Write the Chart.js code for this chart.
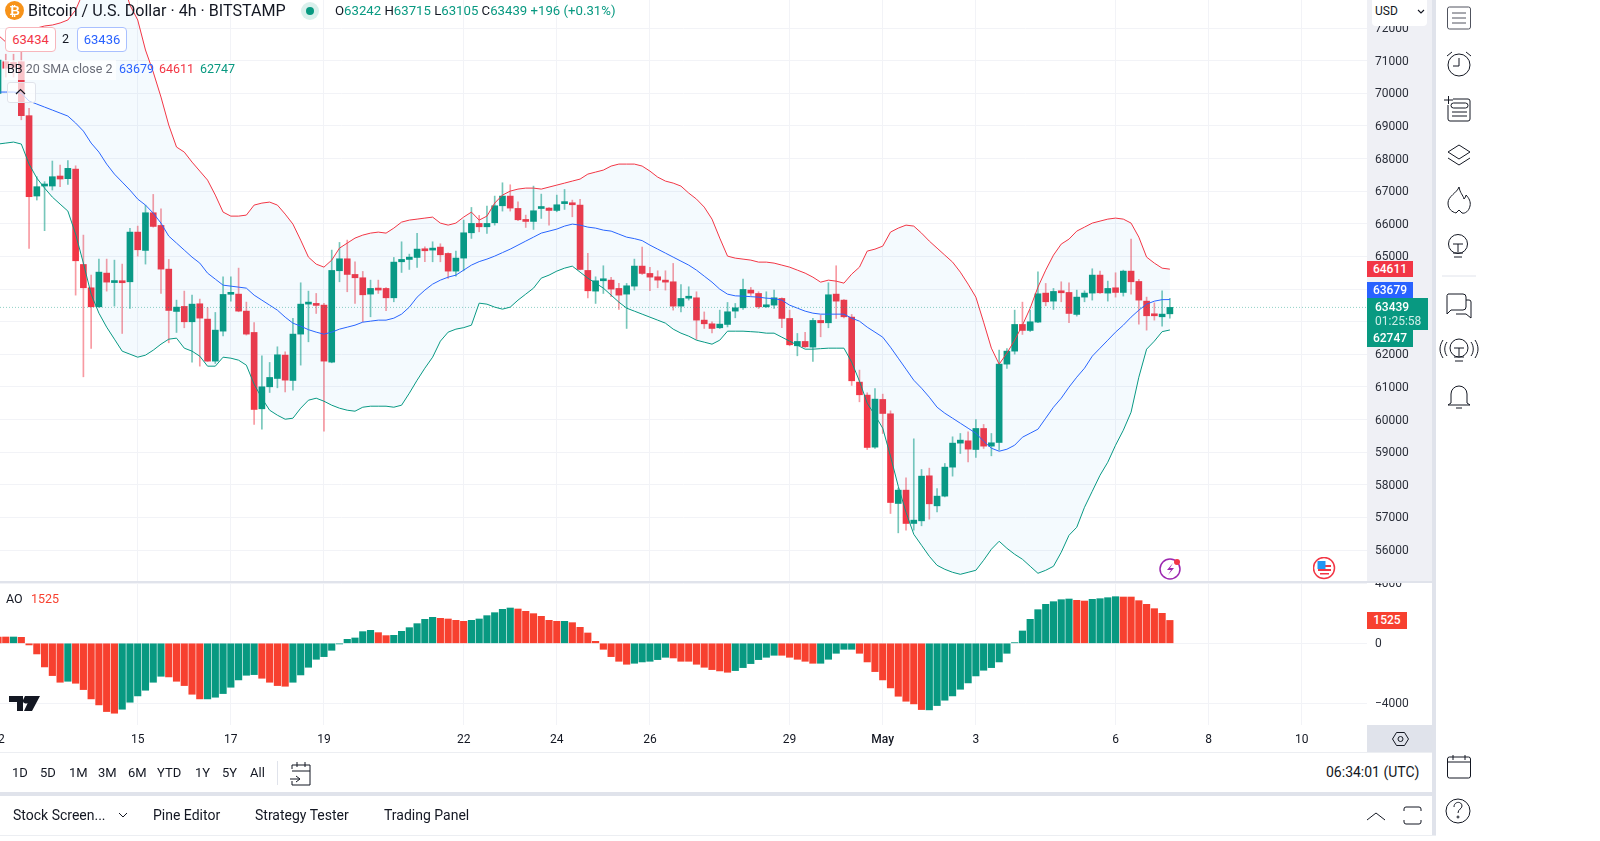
<!DOCTYPE html>
<html>
<head>
<meta charset="utf-8">
<title>Bitcoin / U.S. Dollar 4h</title>
<script src="https://cdn.jsdelivr.net/npm/chart.js@4"></script>
<style>
  html, body { margin: 0; background: #fff; }
  body { width: 1600px; height: 841px; position: relative; overflow: hidden; font-family: Roboto, sans-serif; color: #131722; }
  canvas { position: absolute; left: 0; }
  .abs { position: absolute; white-space: nowrap; }
  .tag { position: absolute; left: 1367px; width: 46px; text-align: center; color: #fff; font-size: 12px; font-weight: 500; height: 16px; line-height: 16px; }
  .box { position: absolute; top: 27px; height: 23px; line-height: 23px; border-radius: 4px; text-align: center; font-size: 13px; background: #fff; }
  .range { position: absolute; top: 765px; font-size: 13px; color: #131722; }
  .tab { position: absolute; top: 807px; font-size: 14px; color: #131722; }
</style>
</head>
<body>
<!-- backgrounds behind the charts -->
<div class="abs" style="left:1367px;top:0;width:65px;height:582px;background:#eff0f5"></div>

<canvas id="priceCanvas" width="1432" height="582" style="top:0;width:1432px;height:582px"></canvas>
<canvas id="aoCanvas" width="1432" height="170" style="top:582px;width:1432px;height:170px"></canvas>

<!-- pane frames -->
<div class="abs" style="left:0;top:581px;width:1432px;height:2px;background:#e0e3eb"></div>
<div class="abs" style="left:1432px;top:0;width:4px;height:835px;background:#e0e3eb"></div>
<div class="abs" style="left:1367px;top:725px;width:69px;height:27px;background:#e0e3eb"></div>
<div class="abs" style="left:0;top:752px;width:1432px;height:1px;background:#eceef2"></div>
<div class="abs" style="left:0;top:792px;width:1436px;height:4px;background:#e0e3eb"></div>
<div class="abs" style="left:0;top:835px;width:1436px;height:1px;background:#eceef2"></div>

<!-- header -->
<div class="abs" style="left:5px;top:1px;width:19px;height:19px;border-radius:50%;background:#f7931a;color:#fff;font-size:13px;font-weight:700;line-height:19px;text-align:center">₿</div>
<div class="abs" style="left:28px;top:1px;font-size:16.1px;line-height:20px">Bitcoin / U.S. Dollar · 4h · BITSTAMP</div>
<div class="abs" style="left:301px;top:2px;width:18px;height:18px;border-radius:50%;background:#d9f0ec"></div>
<div class="abs" style="left:306px;top:7px;width:8px;height:8px;border-radius:50%;background:#089981"></div>
<div class="abs" style="left:335px;top:3px;font-size:13.2px;line-height:16px;color:#131722">O<span style="color:#089981">63242</span> H<span style="color:#089981">63715</span> L<span style="color:#089981">63105</span> C<span style="color:#089981">63439</span> <span style="color:#089981">+196 (+0.31%)</span></div>
<div class="box" style="left:5px;width:49px;border:1px solid #f7b6bc;color:#f23645">63434</div>
<div class="abs" style="left:62px;top:31px;font-size:12.5px;line-height:16px">2</div>
<div class="box" style="left:77px;width:48px;border:1px solid #a9c0ff;color:#2962ff">63436</div>

<!-- indicator legend -->
<div class="abs" style="left:4px;top:60px;width:112px;height:20px;background:rgba(255,255,255,.7)"></div>
<div class="abs" style="left:7px;top:60px;font-size:12.5px;line-height:17px;color:#6a6d78"><span style="color:#131722">BB</span> 20 SMA close 2</div>
<div class="abs" style="left:119px;top:60px;font-size:12.5px;line-height:17px;color:#2962ff">63679</div>
<div class="abs" style="left:159px;top:60px;font-size:12.5px;line-height:17px;color:#f23645">64611</div>
<div class="abs" style="left:200px;top:60px;font-size:12.5px;line-height:17px;color:#089981">62747</div>
<div class="abs" style="left:7px;top:82px;width:27px;height:19px;border:1px solid #e0e3eb;border-radius:3px;background:rgba(255,255,255,.7)"></div>
<svg class="abs" style="left:15px;top:88px" width="11" height="7"><path d="M1 6 L5.5 1.5 L10 6" fill="none" stroke="#131722" stroke-width="1.2"/></svg>
<div class="abs" style="left:6px;top:590px;font-size:12.5px;line-height:17px;color:#131722">AO</div>
<div class="abs" style="left:31px;top:590px;font-size:12.5px;line-height:17px;color:#f7402f">1525</div>

<!-- USD button and last value tags -->
<div class="abs" style="left:1372px;top:0;width:55px;height:26px;background:#fff;border-radius:0 0 4px 4px"></div>
<div class="abs" style="left:1375px;top:3px;font-size:12px;line-height:16px">USD</div>
<svg class="abs" style="left:1417px;top:9px" width="8" height="5"><path d="M1 1 L4 4 L7 1" fill="none" stroke="#131722" stroke-width="1.1"/></svg>
<div class="tag" style="top:261px;background:#f23645">64611</div>
<div class="tag" style="top:282px;background:#2962ff">63679</div>
<div class="abs" style="left:1367px;top:298px;width:61px;height:32px;background:#089981"></div>
<div class="abs" style="left:1375px;top:300px;font-size:12px;font-weight:500;line-height:14px;color:#fff">63439</div>
<div class="abs" style="left:1375px;top:314px;font-size:12px;line-height:14px;color:#cdeee8">01:25:58</div>
<div class="tag" style="top:330px;height:17px;background:#089981">62747</div>
<div class="tag" style="top:612px;width:40px;height:17px;background:#f7402f">1525</div>

<!-- time range toolbar -->
<div class="range" style="left:12px">1D</div>
<div class="range" style="left:40px">5D</div>
<div class="range" style="left:69px">1M</div>
<div class="range" style="left:98px">3M</div>
<div class="range" style="left:128px">6M</div>
<div class="range" style="left:157px">YTD</div>
<div class="range" style="left:195px">1Y</div>
<div class="range" style="left:222px">5Y</div>
<div class="range" style="left:250px">All</div>
<div class="abs" style="left:277px;top:761px;width:1px;height:24px;background:#e0e3eb"></div>
<div class="abs" style="left:1326px;top:764px;font-size:14px;line-height:17px">06:34:01 (UTC)</div>

<!-- bottom tabs -->
<div class="tab" style="left:13px">Stock Screen...</div>
<div class="tab" style="left:153px">Pine Editor</div>
<div class="tab" style="left:255px">Strategy Tester</div>
<div class="tab" style="left:384px">Trading Panel</div>

<!-- icons -->
<svg class="abs" style="left:0;top:0;pointer-events:none" width="1600" height="841" fill="none" stroke="#131722" stroke-width="1">
  <path d="M292 769v-4h18v20h-18v-4M292 771h18M297 762v5M305 762v5M290 779h10M296 776l4 3-4 3"/>
  <path d="M119 813l4 4 4-4" />
  <path d="M1367 820l9-7 9 7" />
  <path d="M1404 811v-2a2 2 0 0 1 2-2h13a2 2 0 0 1 2 2v2M1404 820v2a2 2 0 0 0 2 2h13a2 2 0 0 0 2-2v-2"/>
  <path d="M1392.500 739l4-6.500h8l4 6.500-4 6.500h-8z"/>
  <circle cx="1400.500" cy="739" r="2.500"/>
  <rect x="1447.500" y="7" width="23" height="22" rx="2" stroke="#50535e"/><path d="M1452 13h14M1452 18h14M1452 23h14" stroke="#50535e"/>
  <circle cx="1459" cy="65" r="11"/><path d="M1459 58v8h-6M1447 56l5-4M1471 56l-5-4"/>
  <path d="M1444 100h9M1448.500 96v8"/><path d="M1453 99h15a2 2 0 0 1 2 2v18a2 2 0 0 1-2 2h-18a2 2 0 0 1-2-2v-14"/><rect x="1451" y="103" width="17" height="5" rx="2.500"/><path d="M1452 112h15M1452 116h15"/>
  <path d="M1459 145l11 7-11 7-11-7z"/><path d="M1448 158l11 7 11-7"/>
  <path d="M1459 187c1 6 4 8 5 12 1-1 2-3 2-4 3 3 5 7 4 11-1 5-5 8-8 7l-3-3-3 3c-4-1-8-4-8-10 0-7 9-10 11-16z"/>
  <circle cx="1458" cy="244" r="9.500"/><path d="M1453 244h10M1458 244v8M1453 253h10M1454 257h8"/>
  <path d="M1442 276h34" stroke="#e0e3eb"/>
  <path d="M1448 294h15a3 3 0 0 1 3 3v10a3 3 0 0 1-3 3h-12l-4 4v-17a3 3 0 0 1 1-3zM1466 300h3a2 2 0 0 1 2 2v16l-5-4h-10"/>
  <circle cx="1459" cy="348" r="9"/><path d="M1454 348h10M1459 348v8M1454 357h10M1455 361h8M1447 342c-3 4-3 10 0 14M1471 342c3 4 3 10 0 14M1443 340c-4 6-4 12 0 18M1475 340c4 6 4 12 0 18"/>
  <path d="M1451 403v-9a8 8 0 0 1 16 0v9l3 2h-22zM1456 408h6"/>
  <rect x="1447.500" y="757" width="23" height="21" rx="2"/><path d="M1447.500 762h23M1453 755v5M1465 755v5"/>
  <circle cx="1458" cy="811" r="12"/><path d="M1454 807c0-6 8-6 8-1 0 3-4 3-4 7"/><circle cx="1458" cy="817" r="1"/>
</svg>

<!-- TradingView mark and event badges -->
<svg class="abs" style="left:9px;top:695px" width="32" height="17"><path d="M0 1h14v15h-6v-9h-8zM16 1h6l-2 5a3 3 0 0 1-6-1zM22 1h9l-8 15h-8z" fill="#131722"/></svg>
<svg class="abs" style="left:1159px;top:557px" width="24" height="24"><circle cx="11" cy="12" r="10" fill="#fff" stroke="#9c27b0" stroke-width="1.5"/><path d="M14 6l-6 7h4l-3 5 6-7h-4z" fill="#9c27b0"/><circle cx="18" cy="5" r="3" fill="#f23645"/></svg>
<svg class="abs" style="left:1313px;top:557px" width="24" height="24"><circle cx="11" cy="11" r="10.500" fill="#fff" stroke="#f23645" stroke-width="1.500"/><path d="M5 8h13v2H5zM5 12h13v2H5zM7 16h9v1.500H7z" fill="#f23645"/><rect x="4.500" y="4" width="8" height="8" fill="#2196f3"/></svg>

<script>
// candle values, oldest first, 4h bars
const opens = [
  70000,70970,70950,70970,69316,66853,67160,67159,67466,67384,
  67678,64755,64040,63457,64490,64200,64215,64224,65747,65185,
  66340,65951,64612,63315,63468,62998,63550,63080,61792,62711,
  63840,63846,63325,62671,60330,61005,61260,61976,61199,62620,
  63540,63540,63509,61761,64562,64929,64449,64347,63846,63990,
  64020,63733,64837,64909,64970,65205,65195,65287,65093,64551,
  64950,65726,66013,65910,66033,66554,66851,66473,66135,66074,
  66470,66483,66411,66620,66646,66575,64572,63938,64255,64275,
  64020,63846,64091,64705,64480,64377,64275,64224,63478,63720,
  63733,63049,62936,62814,62916,63325,63427,63969,63866,63457,
  63509,63713,63100,62262,62395,62221,63039,62967,63846,63662,
  63141,61148,60750,59155,60617,60177,57428,57837,56815,56896,
  58276,57356,57653,58542,59278,59349,59083,59727,59186,59298,
  61700,62098,62916,62732,62988,63877,63631,63928,63897,63223,
  63754,63877,64429,63877,64040,63897,64551,64234,63631,63223,
  63151,63242];
const highs = [
  71300,71200,71200,71300,69540,67445,67292,67926,67803,67936,
  67780,65655,64428,64919,64919,64888,64766,65859,65931,66575,
  66902,66462,64909,63662,63938,63815,63693,63437,63284,64377,
  64377,64643,63601,62977,61955,61751,62231,62078,63100,64193,
  63938,63866,63560,65195,65430,65502,64837,64541,64275,64275,
  64050,64970,65450,65072,65706,65297,65450,65389,65110,65164,
  66115,66503,66258,66544,66851,67259,67198,66677,66268,67157,
  66912,66500,66881,67055,66728,66748,65093,64377,64715,64357,
  64173,64173,64919,65287,64664,64561,64561,64786,64142,64071,
  63918,63300,63000,63355,63590,63560,64306,64050,63918,63918,
  63969,63733,63355,62640,62671,63100,63202,64194,64715,63682,
  63222,61516,60821,60954,60780,60269,57900,58215,59410,58470,
  58511,57888,58654,59472,59574,59625,60003,59850,59574,62129,
  62180,63355,63600,63355,64531,64173,64020,64224,64194,63969,
  63948,64623,64551,64245,64500,64582,65532,64296,63754,63580,
  63948,63715];
const lows = [
  69800,70500,70500,69190,65248,66730,65790,67037,67139,67210,
  63815,61311,62180,63437,63938,63478,62640,63406,65011,64766,
  65900,63866,62354,62671,62814,61761,61638,61780,61720,62568,
  63631,63305,62590,59850,59707,60831,60974,60851,60903,61669,
  62384,63253,59645,61740,64224,63918,63560,63000,63151,63866,
  63335,63611,64510,64602,64664,64837,64837,64837,64326,64398,
  64561,65553,65757,65706,65961,66391,66391,66094,65890,65829,
  66166,65961,66370,66442,66217,64590,63733,63560,63866,63764,
  63376,62793,63969,64450,63948,64040,63969,63355,63304,63662,
  62456,62793,62660,62790,62840,63120,63376,63805,63406,63437,
  63406,62814,62262,61955,62210,61782,62538,62814,63100,63120,
  61046,60545,59083,59114,59574,57121,56528,56610,56610,56743,
  56947,57172,57630,58266,58961,58705,58838,59114,58889,59063,
  61567,62006,62610,62700,62967,63488,63376,63611,62967,63172,
  63611,63662,63870,63631,63754,63785,63846,62926,62742,63049,
  62865,63105];
const closes = [
  71020,70770,70800,69316,66832,67139,67180,67445,67374,67701,
  64868,64040,63457,64520,64214,64210,64195,65747,65205,66340,
  65921,64612,63345,63447,62998,63539,63110,61792,62742,63836,
  63870,63325,62620,60310,61005,61291,61986,61209,62620,63539,
  63560,63500,61792,64572,64929,64449,64347,63825,64020,63970,
  63733,64827,64909,64980,65226,65175,65256,65052,64551,64950,
  65726,66013,65910,66013,66554,66851,66483,66125,66074,66401,
  66490,66411,66585,66650,66585,64602,63948,64255,64280,64000,
  63815,64101,64705,64480,64367,64275,64214,63478,63713,63740,
  63049,62936,62793,62926,63304,63427,63989,63877,63457,63519,
  63733,63100,62293,62395,62231,63039,62967,63826,63631,63151,
  61189,60760,59145,60627,60187,57458,57837,56815,56917,58266,
  57418,57653,58542,59278,59370,59094,59727,59186,59288,61700,
  62098,62916,62732,62998,63856,63611,63928,63887,63253,63754,
  63877,64429,63887,64020,63897,64551,64224,63662,63182,63182,
  63233,63439];

// Bollinger bands, same bars
const bbUpper = [
  71789,71574,71635,71758,71850,72003,72065,72095,72157,72249,
  72555,73107,73629,74089,74242,74089,73475,72709,72249,71329,
  70654,69887,69028,68354,68200,67893,67617,67341,66881,66360,
  66237,66237,66268,66575,66636,66667,66575,66299,65992,65501,
  64980,64765,64673,64888,65256,65410,65563,65655,65716,65747,
  65716,65869,66053,66115,66145,66176,66207,66023,65961,66023,
  66207,66360,66115,66237,66636,66881,67004,67065,67096,67096,
  67065,67127,67188,67249,67311,67372,67525,67587,67648,67771,
  67832,67832,67832,67771,67617,67433,67311,67249,67157,66943,
  66759,66513,66145,65563,65011,64949,64919,64888,64827,64827,
  64796,64735,64673,64581,64489,64366,64213,64274,64244,64182,
  64458,64673,65164,65225,65317,65747,65869,65961,65931,65716,
  65471,65256,65041,64827,64520,64152,63753,62986,62189,61698,
  62035,62434,62894,63416,64060,64581,65041,65379,65532,65777,
  65900,66023,66084,66145,66176,66145,66023,65593,64980,64796,
  64642,64611];
const bbBasis = [
  70040,70040,70040,70010,69764,69672,69580,69488,69396,69304,
  69090,68844,68476,68200,67832,67525,67280,67035,66759,66575,
  66329,66023,65624,65410,65195,64980,64796,64489,64305,64121,
  64090,64060,64029,63815,63661,63508,63354,63140,62956,62864,
  62756,62680,62618,62680,62772,62833,62894,62986,63017,63048,
  63048,63109,63232,63447,63753,63968,64152,64274,64366,64428,
  64581,64735,64842,64919,65011,65118,65225,65348,65471,65593,
  65716,65777,65839,65931,65992,65961,65900,65869,65808,65777,
  65685,65593,65547,65486,65348,65225,65103,64980,64857,64735,
  64581,64397,64213,63998,63845,63793,63784,63768,63753,63722,
  63707,63661,63508,63416,63324,63262,63232,63232,63232,63232,
  63109,63017,62833,62680,62526,62219,61882,61545,61207,60962,
  60686,60379,60195,60042,59888,59735,59582,59337,59122,59030,
  59091,59214,59459,59582,59705,60042,60379,60655,60993,61299,
  61575,61944,62189,62434,62680,62894,63140,63354,63538,63630,
  63676,63679];
const bbLower = [
  68446,68476,68507,68446,67832,67403,67096,66820,66605,66391,
  65685,64796,63845,63262,62833,62465,62097,62005,61913,61974,
  62127,62312,62465,62496,62189,62097,61943,61637,61637,61913,
  61882,61821,61667,61085,60655,60287,60134,60011,60042,60349,
  60594,60655,60563,60441,60349,60287,60257,60379,60410,60410,
  60410,60379,60441,60809,61207,61575,61913,62404,62680,62772,
  62818,62894,63569,63538,63447,63385,63447,63661,63845,64029,
  64336,64428,64551,64642,64704,64520,64336,64182,64029,63815,
  63600,63416,63324,63232,63140,63048,62956,62772,62649,62557,
  62434,62373,62312,62434,62710,62710,62710,62695,62680,62649,
  62649,62526,62404,62281,62158,62158,62174,62189,62189,62189,
  61760,61177,60502,60134,59735,58877,57956,57159,56484,56147,
  55809,55533,55410,55318,55257,55318,55380,55687,56025,56270,
  56055,55871,55718,55503,55288,55380,55503,55932,56453,56699,
  57312,57803,58294,58693,59214,59674,60226,61299,62158,62404,
  62695,62747];

// Awesome Oscillator, same bars, with its colour flag (G rising, R falling)
const aoValues = [
  420,420,420,400,-110,-710,-1576,-2153,-2597,-2531,
  -2664,-3086,-3707,-4107,-4551,-4662,-4396,-3929,-3508,-3130,
  -2597,-2198,-2242,-2531,-2819,-3397,-3707,-3707,-3596,-3352,
  -2930,-2442,-2131,-2087,-2331,-2597,-2819,-2864,-2597,-2109,
  -1598,-1066,-888,-466,-44,266,355,777,866,710,
  511,533,799,1043,1310,1598,1732,1665,1621,1532,
  1465,1532,1621,1843,2042,2264,2353,2287,2131,1976,
  1798,1532,1465,1465,1376,1066,688,133,-400,-888,
  -1199,-1398,-1332,-1243,-1199,-1088,-933,-977,-1199,-1199,
  -1398,-1598,-1754,-1843,-1931,-1820,-1621,-1354,-1088,-932,
  -799,-799,-932,-1066,-1199,-1332,-1332,-1066,-666,-400,
  -400,-666,-1243,-1887,-2442,-2975,-3530,-3863,-4040,-4418,
  -4440,-4151,-3796,-3508,-3064,-2642,-2176,-1798,-1621,-1243,
  -666,44,821,1598,2242,2597,2775,2908,2953,2864,
  2819,2930,2975,3041,3108,3086,3086,2842,2597,2309,
  1998,1525];
const aoFlags = "RRGRRRRRRG" + "RRRRRRGGGG" + "GGRRRRRGGG" + "GGGGRRRRGG" + "GGGGGGGGGR" +
                "RGGGGGGRRR" + "RGGGGGGRRR" + "RRRGRRRRRR" + "RRGGGGGRRR" + "RRRRRGGGGG" +
                "GRRRRRGGGG" + "GRRRRRRRRR" + "GGGGGGGGGG" + "GGGGGGGGGR" + "RGGGGRRRRR" + "RR";

// axis ticks
const priceTicks = [56000,57000,58000,59000,60000,61000,62000,63000,64000,65000,66000,67000,68000,69000,70000,71000,72000];
const aoTicks = [-4000,0,4000];
const dayTickBars = [0,18,30,42,60,72,84,102,114,126,144,156,168];
const dayTickLabels = ['12','15','17','19','22','24','26','29','May','3','6','8','10'];

const lastClose = closes[closes.length - 1];
const upColor = '#089981', downColor = '#f23645', aoDown = '#f7402f';
const gridColor = '#f2f3f7';
const xMin = 0.255, xMax = 176.4; // visible bar range of the pane

Chart.defaults.font.family = 'Roboto, sans-serif';
Chart.defaults.animation = false;
Chart.defaults.devicePixelRatio = 1;

// Shared x scale. The real labels only show on the lower pane
function xScale(showLabels) {
    return {
        type: 'linear', min: xMin, max: xMax, offset: false,
        border: {display: false},
        grid: {color: gridColor, drawTicks: false, offset: false},
        afterBuildTicks: function(scale) { scale.ticks = dayTickBars.map(v => ({value: v})); },
        afterFit: function(scale) {
            scale.height = showLabels ? 27 : 0;
            scale.paddingLeft = 0; scale.paddingRight = 0;
        },
        ticks: {
            display: showLabels, autoSkip: false, maxRotation: 0, padding: 8, color: '#131722',
            font: ctx => ({size: 12, weight: ctx.tick && ctx.tick.value === 114 ? '500' : '400'}),
            callback: value => dayTickLabels[dayTickBars.indexOf(value)]
        }
    };
}

// Shared y scale, pinned to the axis strip on the right
function yScale(min, max, tickValues, format) {
    return {
        position: 'right', min: min, max: max,
        border: {display: false},
        grid: {color: gridColor, drawTicks: false},
        afterBuildTicks: function(scale) { scale.ticks = tickValues.map(v => ({value: v})); },
        afterFit: function(scale) {
            scale.width = 65;
            scale.paddingTop = 0; scale.paddingBottom = 0;
        },
        ticks: {padding: 8, labelOffset: 1, color: '#2a2e39', font: {size: 12}, autoSkip: false, callback: format}
    };
}

const wickColors = opens.map((o, i) => closes[i] >= o ? 'rgba(8,153,129,.55)' : 'rgba(242,54,69,.5)');
const bodyColors = opens.map((o, i) => closes[i] >= o ? upColor : downColor);

function bandLine(values, color, extra) {
    return Object.assign({
        type: 'line', order: 1,
        data: values.map((v, i) => ({x: i, y: v})),
        borderColor: color, borderWidth: 1, pointRadius: 0, tension: 0, fill: false
    }, extra);
}

const priceChart = new Chart(document.getElementById('priceCanvas'), {
    data: {
        datasets: [
            bandLine(bbUpper, '#f23645', {fill: {target: 1}, backgroundColor: 'rgba(33,150,243,0.05)'}),
            bandLine(bbLower, '#089981', {}),
            bandLine(bbBasis, '#2962ff', {}),
            // current price line
            {
                type: 'line', order: 0,
                data: [{x: xMin, y: lastClose}, {x: xMax, y: lastClose}],
                borderColor: 'rgba(8,153,129,.45)', borderWidth: 1, borderDash: [1, 2], pointRadius: 0
            },
            {
                type: 'bar', order: 3, grouped: false, barThickness: 1,
                data: lows.map((l, i) => ({x: i, y: [l, highs[i]]})),
                backgroundColor: wickColors
            },
            {
                type: 'bar', order: 2, grouped: false, barThickness: 6, minBarLength: 2,
                data: opens.map((o, i) => ({x: i, y: [Math.min(o, closes[i]), Math.max(o, closes[i])]})),
                backgroundColor: bodyColors
            }
        ]
    },
    options: {
        responsive: false,
        layout: {padding: 0},
        plugins: {legend: {display: false}, tooltip: {enabled: false}},
        scales: {
            x: xScale(false),
            y: yScale(55021, 72862, priceTicks, v => String(v))
        }
    }
});

const aoChart = new Chart(document.getElementById('aoCanvas'), {
    type: 'bar',
    data: {
        datasets: [{
            barThickness: 6.5,
            data: aoValues.map((v, i) => ({x: i, y: v})),
            backgroundColor: aoValues.map((v, i) => aoFlags[i] === 'G' ? upColor : aoDown)
        }]
    },
    options: {
        responsive: false,
        layout: {padding: 0},
        plugins: {legend: {display: false}, tooltip: {enabled: false}},
        scales: {
            x: xScale(true),
            y: yScale(-5447, 4087, aoTicks, v => v < 0 ? '\u2212' + Math.abs(v) : String(v))
        }
    }
});
</script>
</body>
</html>
